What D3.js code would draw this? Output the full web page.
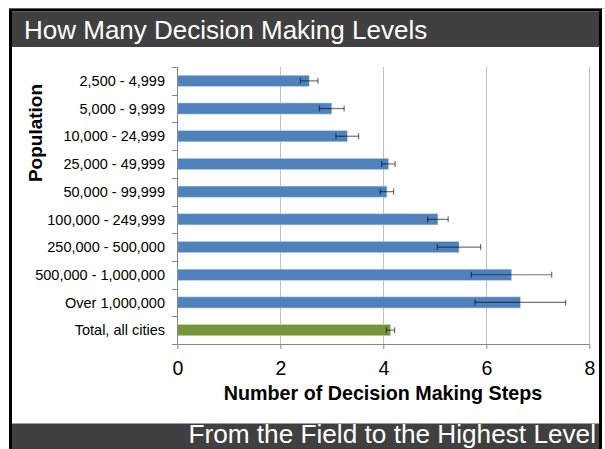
<!DOCTYPE html>
<html>
<head>
<meta charset="utf-8">
<script src="https://cdn.jsdelivr.net/npm/d3@7"></script>
<style>
  html, body { margin: 0; padding: 0; background: #fff; }
  svg { display: block; }
  text { font-family: "Liberation Sans", Arial, sans-serif; }
</style>
</head>
<body>
<svg id="chart" width="605" height="449"></svg>
<script>
const categories = ["2,500 - 4,999", "5,000 - 9,999", "10,000 - 24,999", "25,000 - 49,999",
  "50,000 - 99,999", "100,000 - 249,999", "250,000 - 500,000", "500,000 - 1,000,000",
  "Over 1,000,000", "Total, all cities"];
const values = [2.56, 3.00, 3.30, 4.10, 4.07, 5.06, 5.47, 6.49, 6.66, 4.14];
const errors = [0.17, 0.24, 0.22, 0.13, 0.13, 0.20, 0.42, 0.78, 0.88, 0.08];
const xTicks = [0, 2, 4, 6, 8];
const titleText = "How Many Decision Making Levels";
const footerText = "From the Field to the Highest Level";
const xAxisTitle = "Number of Decision Making Steps";
const yAxisTitle = "Population";

const svg = d3.select("#chart");
const W = 605, H = 449;

svg.append("rect").attr("x", 0).attr("y", 0).attr("width", W).attr("height", H).attr("fill", "#fff");

// frame
svg.append("line").attr("x1", 9).attr("x2", 604).attr("y1", 8.5).attr("y2", 8.5)
  .attr("stroke", "#bdbdbd").attr("stroke-width", 1);
svg.append("rect").attr("x", 10.5).attr("y", 10).attr("width", 590).attr("height", H)
  .attr("fill", "none").attr("stroke", "#000").attr("stroke-width", 3);
svg.append("rect").attr("x", 12).attr("y", 11.5).attr("width", 587).attr("height", 35.5).attr("fill", "#404040");
svg.append("rect").attr("x", 12).attr("y", 423.5).attr("width", 587).attr("height", 30).attr("fill", "#404040");

svg.append("text").attr("x", 24).attr("y", 39).attr("fill", "#fff")
  .style("font-size", "26px").text(titleText);
svg.append("text").attr("x", 596).attr("y", 443).attr("fill", "#fff")
  .attr("text-anchor", "end").style("font-size", "26.2px").text(footerText);

// scales
const x = d3.scaleLinear().domain([0, 8]).range([177.3, 589.3]);
const y = d3.scaleBand().domain(categories).range([67, 344]).paddingInner(0.6).paddingOuter(0.3);

// gridlines
svg.append("g").selectAll("line").data(xTicks.filter(d => d > 0)).join("line")
  .attr("x1", d => Math.round(x(d)) + 0.5).attr("x2", d => Math.round(x(d)) + 0.5)
  .attr("y1", 67).attr("y2", 344)
  .attr("stroke", "#c0c0c0").attr("stroke-width", 1);

// bars
svg.append("g").selectAll("rect").data(categories).join("rect")
  .attr("x", x(0) + 0.5)
  .attr("y", d => y(d))
  .attr("width", (d, i) => x(values[i]) - x(0) - 0.5)
  .attr("height", y.bandwidth())
  .attr("fill", (d, i) => i === categories.length - 1 ? "#77933C" : "#4F81BD")
  .attr("stroke", (d, i) => i === categories.length - 1 ? "#c3d69b" : "#b9cde5")
  .attr("stroke-width", 0.6);

// error bars
const eb = svg.append("g").attr("stroke", "#000").attr("stroke-opacity", 0.55).attr("stroke-width", 1.2);
categories.forEach((c, i) => {
  const cy = y(c) + y.bandwidth() / 2;
  const x1 = x(values[i] - errors[i]), x2 = x(values[i] + errors[i]);
  eb.append("line").attr("x1", x1).attr("x2", x2).attr("y1", cy).attr("y2", cy);
  eb.append("line").attr("x1", x1).attr("x2", x1).attr("y1", cy - 3).attr("y2", cy + 3);
  eb.append("line").attr("x1", x2).attr("x2", x2).attr("y1", cy - 3).attr("y2", cy + 3);
});

// x axis
const xAxis = d3.axisBottom(x).tickValues(xTicks).tickSize(5).tickPadding(12).tickFormat(d3.format("d"));
const gx = svg.append("g").attr("transform", "translate(0,344)").call(xAxis);
gx.select(".domain").attr("stroke", "#868686").attr("d", `M${x(0)},0.5H${x(8)}`);
gx.selectAll(".tick line").attr("stroke", "#868686");
gx.selectAll(".tick text").attr("fill", "#000").style("font-size", "19.5px")
  .style("font-family", "'Liberation Sans', Arial, sans-serif");

// y axis (ticks at band boundaries)
const bounds = categories.map(c => y(c) - y.step() * y.paddingInner() / 2).concat([344]);
svg.append("line").attr("x1", 177.5).attr("x2", 177.5).attr("y1", 67).attr("y2", 344)
  .attr("stroke", "#868686");
svg.append("g").selectAll("line").data(bounds).join("line")
  .attr("x1", 172).attr("x2", 177.5)
  .attr("y1", d => Math.round(d) + 0.5).attr("y2", d => Math.round(d) + 0.5)
  .attr("stroke", "#868686");

svg.append("g").selectAll("text").data(categories).join("text")
  .attr("x", 165)
  .attr("y", d => y(d) + y.bandwidth() / 2)
  .attr("dy", "0.36em")
  .attr("text-anchor", "end")
  .style("font-size", "14.5px")
  .attr("fill", "#000")
  .text(d => d);

svg.append("text").attr("x", 383).attr("y", 400).attr("text-anchor", "middle")
  .style("font-size", "19.7px").style("font-weight", "bold").text(xAxisTitle);
svg.append("text").attr("transform", "translate(35,133) rotate(-90)")
  .attr("text-anchor", "middle").attr("dy", "0.35em")
  .style("font-size", "19px").style("font-weight", "bold").text(yAxisTitle);
</script>
</body>
</html>
